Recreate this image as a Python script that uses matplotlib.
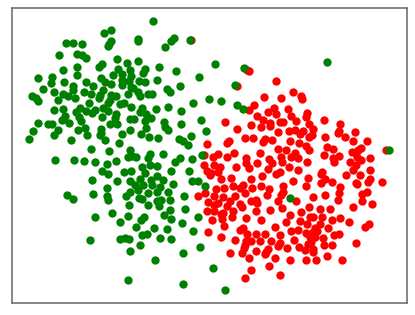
import matplotlib
matplotlib.use('Agg')
import matplotlib.pyplot as plt
import numpy as np

# points, one list per quadrant (local crop units)
green_top_left = [
    (460,64),(334,90),(314,100),(415,118),(415,124),(522,115),(514,123),(570,122),(496,143),(333,125),
    (328,133),(324,140),(198,130),(220,129),(247,134),(178,167),(232,162),(248,165),(258,175),(351,179),
    (382,190),(415,184),(308,194),(297,203),(232,203),(189,210),(355,208),(390,211),(477,203),(436,208),
    (430,220),(529,214),(114,234),(157,231),(233,227),(339,227),(366,224),(395,229),(303,235),(155,249),
    (193,248),(259,246),(316,247),(335,254),(366,240),(366,255),(388,243),(419,244),(436,246),(473,240),
    (221,259),(280,260),(540,259),(129,268),(164,276),(252,278),(221,272),(310,270),(393,262),(400,265),
    (502,268),(512,278),(97,288),(189,283),(205,290),(226,296),(275,284),(300,285),(298,294),(350,288),
    (334,285),(385,284),(416,277),(420,290),(445,284),(458,283),(109,296),(116,305),(176,302),(330,300),
    (325,310),(268,310),(372,310),(360,313),(581,310),(163,330),(189,328),(242,325),(258,333),(285,330),
    (310,324),(326,334),(278,340),(395,321),(426,325),(468,327),(505,323),(544,335),(228,338),(237,352),
    (195,349),(188,360),(307,352),(350,343),(345,356),(420,338),(438,344),(455,355),(390,358),(402,358),
    (435,365),(116,369),(146,372),(158,372),(207,370),(243,365),(332,374),(352,373),(494,366),(544,373),
    (256,384),(440,385),(495,382),(505,390),(100,394),(174,391),(236,391),(304,388),(305,400),(390,390),
    (89,417),(162,407),(262,405),(302,407),(367,402),(425,404),(448,411),(475,414),(574,410),(215,420),
    (315,421),(537,417),(550,424),(564,437),(357,430),(273,447),
]
green_bottom_left = [
    (327,3),(391,0),(166,31),(224,31),(254,33),(285,36),(322,41),(350,34),(386,22),(398,18),
    (408,20),(452,12),(446,24),(491,12),(540,25),(527,36),(576,27),(608,15),(428,51),(451,46),
    (472,47),(436,68),(307,64),(326,73),(374,66),(395,64),(515,64),(569,64),(278,90),(353,93),
    (391,92),(422,87),(473,78),(490,91),(453,90),(578,92),(595,93),(520,103),(322,113),(617,109),
    (406,105),(416,120),(431,105),(458,105),(480,110),(201,136),(220,146),(281,131),(323,137),(324,149),
    (378,137),(391,125),(445,129),(473,125),(505,125),(552,137),(417,143),(427,147),(473,152),(483,149),
    (477,167),(510,149),(389,164),(446,164),(338,190),(286,200),(386,197),(432,201),(425,211),(493,196),
    (511,181),(515,207),(556,177),(594,200),(362,216),(547,219),(409,231),(463,234),(503,237),(580,244),
    (270,269),(362,266),(377,263),(388,268),(428,254),(443,251),(480,263),(515,267),(422,285),(601,291),
    (391,303),(551,310),(465,331),(385,390),(551,403),
]
green_top_right = [
    (45,194),(134,204),(107,257),(381,187),(29,299),(63,305),(111,316),(131,329),(-2,232),(5,361),
    (20,394),(567,451),
]
green_bottom_right = [(270,144),(39,354),(75,419)]

red_top_right = [
    (-25,122),(148,214),(142,212),(112,259),(228,243),(281,277),(304,289),(307,299),(193,291),(244,296),
    (163,315),(148,331),(224,326),(205,338),(229,343),(266,327),(323,339),(320,352),(173,348),(274,350),
    (189,362),(290,363),(373,360),(75,366),(212,369),(240,368),(250,367),(155,376),(184,383),(210,380),
    (328,372),(421,374),(113,389),(340,388),(267,395),(286,392),(310,393),(234,397),(302,403),(417,394),
    (415,400),(467,398),(338,407),(327,413),(375,412),(436,412),(137,415),(161,415),(195,418),(190,426),
    (217,422),(87,424),(81,429),(272,424),(298,431),(459,424),(502,424),(22,433),(319,440),(381,443),
    (399,448),(484,446),(475,450),(235,447),(258,451),(560,452),(329,452),
]
red_bottom_right = [
    (55,14),(40,20),(82,22),(104,10),(13,16),(140,23),(181,11),(209,28),(245,22),(273,20),
    (287,9),(295,25),(373,16),(418,18),(400,24),(402,36),(322,35),(456,8),(472,22),(484,30),
    (512,23),(451,37),(468,45),(138,40),(171,39),(216,40),(246,36),(14,45),(43,45),(62,50),
    (110,50),(147,55),(204,58),(267,50),(295,59),(461,60),(512,60),(22,63),(54,66),(30,75),
    (33,68),(240,67),(228,72),(367,65),(365,72),(440,75),(482,74),(95,83),(64,88),(155,88),
    (187,79),(325,84),(375,88),(280,93),(397,95),(363,100),(510,88),(505,95),(548,97),(468,100),
    (473,102),(99,109),(73,113),(50,118),(130,106),(122,114),(135,128),(158,115),(185,107),(249,108),
    (318,108),(420,112),(208,118),(15,128),(106,137),(43,138),(70,140),(203,135),(250,125),(243,135),
    (377,135),(417,130),(415,150),(340,142),(503,125),(488,132),(486,152),(24,155),(92,152),(153,152),
    (170,150),(172,158),(235,153),(290,153),(56,160),(42,165),(122,163),(128,170),(81,168),(516,162),
    (459,170),(329,171),(248,174),(360,178),(391,178),(22,184),(42,183),(169,184),(211,181),(100,183),
    (70,190),(63,193),(303,187),(271,196),(97,202),(139,204),(67,207),(37,209),(183,209),(330,201),
    (340,200),(367,200),(420,203),(396,209),(300,213),(258,216),(448,216),(361,222),(322,223),(385,233),
    (73,229),(226,231),(507,221),(495,231),(131,235),(122,240),(25,246),(275,242),(295,241),(345,233),
    (340,245),(352,242),(318,250),(142,253),(170,251),(196,251),(403,254),(418,252),(65,260),(242,256),
    (330,262),(345,262),(370,263),(340,262),(107,269),(155,274),(140,272),(181,273),(213,273),(282,271),
    (335,275),(468,279),(240,280),(235,289),(325,283),(372,284),(397,285),(137,285),(132,295),(263,295),
    (299,292),(315,300),(340,298),(205,298),(200,306),(195,313),(168,302),(92,308),(127,310),(340,307),
    (148,323),(225,324),(270,330),(320,331),(350,331),(382,318),(428,329),(209,348),(153,361),(135,383),
    (242,376),(-5,138),
]

# quadrants sit 600 across and 450 down from each other
green = np.vstack([
    np.array(green_top_left),
    np.array(green_bottom_left) + [0, 450],
    np.array(green_top_right) + [600, 0],
    np.array(green_bottom_right) + [600, 450],
])
red = np.vstack([
    np.array(red_top_right) + [600, 0],
    np.array(red_bottom_right) + [600, 450],
])

fig = plt.figure(figsize=(4.15, 3.15), dpi=100)
ax = fig.add_axes([12 / 415, 1 - 303 / 315, 395 / 415, 295 / 315])
ax.scatter(red[:, 0], red[:, 1], s=36, c='red', linewidths=0)
ax.scatter(green[:, 0], green[:, 1], s=36, c='green', linewidths=0)
ax.set_xlim(37, 1222)
ax.set_ylim(909, 25)
ax.set_xticks([])
ax.set_yticks([])
for s in ax.spines.values():
    s.set_edgecolor('#666666')
    s.set_linewidth(1.1)
fig.savefig('out.png', dpi=100)
